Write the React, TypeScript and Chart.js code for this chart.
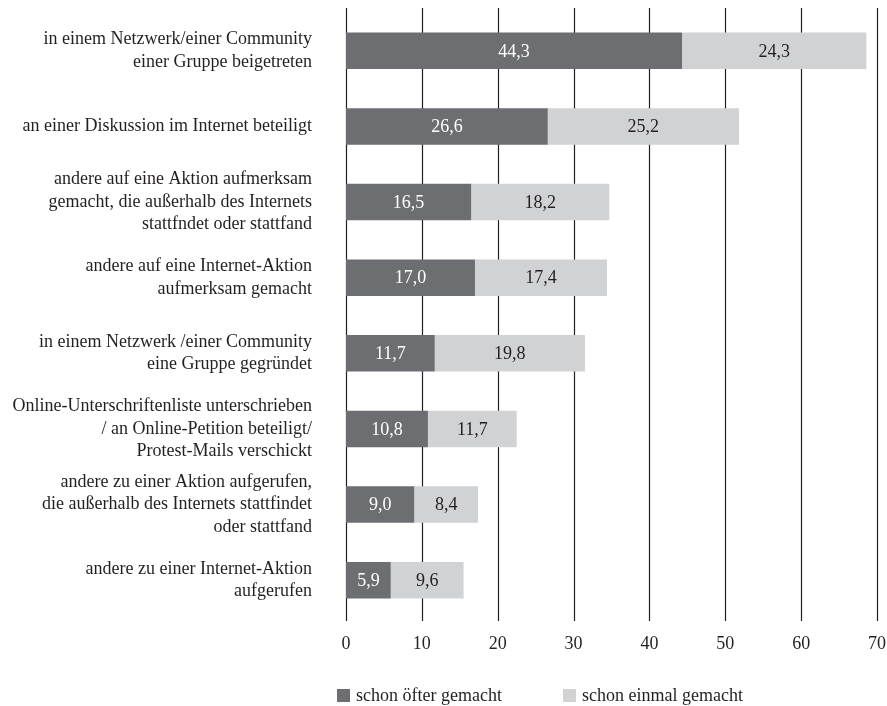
import React, { useEffect, useRef } from "react";
import { Chart, registerables } from "chart.js";

Chart.register(...registerables);

const categories: string[][] = [
  ["in einem Netzwerk/einer Community", "einer Gruppe beigetreten"],
  ["an einer Diskussion im Internet beteiligt"],
  ["andere auf eine Aktion aufmerksam", "gemacht, die außerhalb des Internets", "stattfndet oder stattfand"],
  ["andere auf eine Internet-Aktion", "aufmerksam gemacht"],
  ["in einem Netzwerk /einer Community", "eine Gruppe gegründet"],
  ["Online-Unterschriftenliste unterschrieben", "/ an Online-Petition beteiligt/", "Protest-Mails verschickt"],
  ["andere zu einer Aktion aufgerufen,", "die außerhalb des Internets stattfindet", "oder stattfand"],
  ["andere zu einer Internet-Aktion", "aufgerufen"],
];

const oftenValues = [44.3, 26.6, 16.5, 17.0, 11.7, 10.8, 9.0, 5.9];
const onceValues = [24.3, 25.2, 18.2, 17.4, 19.8, 11.7, 8.4, 9.6];
const seriesNames = ["schon öfter gemacht", "schon einmal gemacht"];
const xTicks = [0, 10, 20, 30, 40, 50, 60, 70];

const DARK = "#6d6e71";
const LIGHT = "#d1d2d4";
const INK = "#231f20";
const FONT = "'Liberation Serif', 'Times New Roman', serif";

const gridPlugin = {
  id: "customGrid",
  beforeDatasetsDraw(chart: any) {
    const ctx = chart.ctx;
    const xs = chart.scales.x;
    ctx.save();
    ctx.strokeStyle = INK;
    ctx.lineWidth = 1.2;
    xTicks.forEach((t) => {
      const px = Math.round(xs.getPixelForValue(t)) + 0.5;
      ctx.beginPath();
      ctx.moveTo(px, chart.chartArea.top - 5);
      ctx.lineTo(px, chart.chartArea.bottom + 3);
      ctx.stroke();
    });
    ctx.restore();
  },
};

const labelPlugin = {
  id: "barLabels",
  afterDatasetsDraw(chart: any) {
    const ctx = chart.ctx;
    ctx.save();
    ctx.font = `18px ${FONT}`;
    ctx.textAlign = "center";
    ctx.textBaseline = "middle";
    chart.data.datasets.forEach((ds: any, di: number) => {
      const meta = chart.getDatasetMeta(di);
      meta.data.forEach((el: any, i: number) => {
        const v = ds.data[i] as number;
        const cx = (el.x + el.base) / 2;
        ctx.fillStyle = di === 0 ? "#ffffff" : INK;
        ctx.fillText(v.toFixed(1).replace(".", ","), cx, el.y + 1);
      });
    });
    ctx.restore();
  },
};

export default function App() {
  const ref = useRef<HTMLCanvasElement | null>(null);

  useEffect(() => {
    if (!ref.current) return;
    const chart = new Chart(ref.current, {
      type: "bar",
      data: {
        labels: categories,
        datasets: [
          {
            label: seriesNames[0],
            data: oftenValues,
            backgroundColor: DARK,
            borderWidth: 0,
            categoryPercentage: 1,
            barPercentage: 0.484,
          },
          {
            label: seriesNames[1],
            data: onceValues,
            backgroundColor: LIGHT,
            borderWidth: 0,
            categoryPercentage: 1,
            barPercentage: 0.484,
          },
        ],
      },
      options: {
        indexAxis: "y",
        animation: false,
        responsive: false,
        maintainAspectRatio: false,
        layout: { padding: { top: 13, right: 10, bottom: 0, left: 0 } },
        plugins: {
          legend: { display: false },
          tooltip: { enabled: false },
        },
        scales: {
          x: {
            stacked: true,
            min: 0,
            max: 70,
            afterBuildTicks: (s: any) => {
              s.ticks = xTicks.map((v) => ({ value: v }));
            },
            afterFit: (s: any) => {
              s.height = 88;
              s.paddingLeft = 0;
              s.paddingRight = 0;
            },
            grid: { display: false, drawTicks: false },
            border: { display: false },
            ticks: {
              color: INK,
              padding: 15,
              font: { family: FONT, size: 18 },
              callback: (v: any) => String(v),
            },
          },
          y: {
            stacked: true,
            afterFit: (s: any) => {
              s.width = 346;
              s.paddingTop = 0;
              s.paddingBottom = 0;
            },
            grid: { display: false, drawTicks: false },
            border: { display: false },
            ticks: {
              autoSkip: false,
              color: INK,
              padding: 34,
              font: { family: FONT, size: 18, lineHeight: 1.25 },
            },
          },
        },
      },
      plugins: [gridPlugin, labelPlugin],
    });
    return () => chart.destroy();
  }, []);

  const legendItem = (left: number, color: string, text: string) => (
    <div
      style={{
        position: "absolute",
        left,
        top: 684,
        height: 22,
        display: "flex",
        alignItems: "center",
        fontFamily: FONT,
        fontSize: 18,
        lineHeight: "22px",
        color: INK,
        whiteSpace: "nowrap",
      }}
    >
      <span style={{ display: "inline-block", width: 13, height: 13, background: color, marginRight: 6 }} />
      <span>{text}</span>
    </div>
  );

  return (
    <div style={{ position: "fixed", left: 0, top: 0, width: 887, height: 706, background: "#fff" }}>
      <canvas ref={ref} width={887} height={706} style={{ display: "block", width: 887, height: 706 }} />
      {legendItem(337, DARK, seriesNames[0])}
      {legendItem(563, LIGHT, seriesNames[1])}
    </div>
  );
}
